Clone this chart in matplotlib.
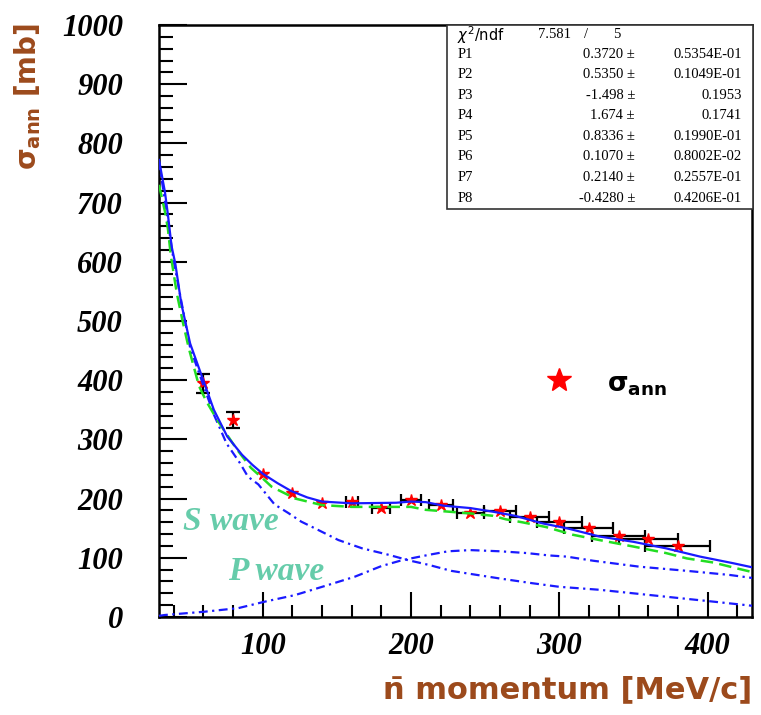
import matplotlib.pyplot as plt
from matplotlib.ticker import MultipleLocator
from matplotlib.patches import Rectangle

plt.rcParams['mathtext.fontset'] = 'dejavusans'

# measured points (antineutron momentum, annihilation cross section)
momentum = [60, 80, 100, 120, 140, 160, 180, 200, 220, 240, 260, 280, 300, 320, 340, 360, 380]
sigma_ann = [395, 333, 242, 210, 193, 195, 184, 197, 189, 175, 179, 169, 160, 150, 137, 131, 120]
momentum_err = [0, 0, 0, 0, 0, 4, 6, 7, 8, 9, 11, 13, 15, 16.5, 18, 20, 22]
sigma_err = [16, 13, 0, 0, 0, 0, 0, 0, 0, 0, 0, 0, 0, 0, 0, 0, 0]

# total fit (blue solid)
fit_p = [30, 32, 34, 36, 38.5, 41, 45, 51, 59, 67, 76, 86, 93, 100, 110, 119, 130, 140,
         160, 190, 200, 210, 222, 240, 255, 270, 289, 305, 327, 350, 372, 395, 417, 430]
fit_s = [772, 745, 718, 680, 626, 597, 530, 462, 406, 350, 305, 274, 257, 242, 226, 213, 202, 195,
         192, 193, 195, 194, 188, 184, 178, 171, 158, 150, 136, 127, 116, 102, 91, 84]

# second fit (green dashed)
alt_p = [30, 34, 36, 38, 42, 46, 50, 57, 62, 70, 82, 92, 100, 106, 122, 140, 160, 200,
         210, 240, 255, 264, 275, 291, 309, 327, 350, 372, 386, 404, 420, 430]
alt_s = [730, 685, 656, 610, 547, 499, 455, 390, 364, 330, 285, 252, 234, 220, 200, 189, 186, 186,
         181, 175, 171, 165, 160, 152, 139, 130, 119, 108, 99, 92, 82, 76]

# S wave component
swave_p = [30, 40, 51, 59, 67, 75.6, 84.6, 90, 97, 108, 117, 126, 135, 151, 167, 185, 198,
           212, 227, 237, 260, 282, 300, 327, 373, 400, 430]
swave_s = [770, 600, 455, 398, 342, 293, 260, 237, 224, 190, 176, 161, 150, 130, 116, 105, 96,
           88, 78, 74, 65, 57, 51, 46, 34, 27, 19]

# P wave component
pwave_p = [30, 34, 61, 83.5, 101.5, 121.7, 144, 162, 180, 194, 212, 225, 240, 260, 278, 293,
           305, 323, 354, 386, 415, 430]
pwave_s = [2, 3.4, 9, 15, 26, 37, 54, 68, 86, 96, 105, 111, 113, 111, 108, 104,
           102, 95, 85, 78, 71, 66]

par_names = ['P1', 'P2', 'P3', 'P4', 'P5', 'P6', 'P7', 'P8']
par_values = ['0.3720', '0.5350', '-1.498', '1.674', '0.8336', '0.1070', '0.2140', '-0.4280']
par_errors = ['0.5354E-01', '0.1049E-01', '0.1953', '0.1741', '0.1990E-01', '0.8002E-02',
              '0.2557E-01', '0.4206E-01']

W, H = 761, 715
brown = '#9c4a1c'
teal = '#66ccaa'
blue = '#1a1aff'


def fx(x):
    return x / W


def fy(y):
    return 1 - y / H


fig = plt.figure(figsize=(W / 100, H / 100), dpi=100)
ax = fig.add_axes([fx(159), fy(617), 593 / W, 592 / H])

ax.plot(pwave_p, pwave_s, color=blue, lw=1.6, dashes=(4, 2, 1, 2), zorder=3)
ax.plot(swave_p, swave_s, color=blue, lw=1.6, dashes=(4, 2, 1, 2), zorder=3)

# vertical and horizontal error bars are drawn separately, only where they exist
vy = [i for i, e in enumerate(sigma_err) if e > 0]
hx = [i for i, e in enumerate(momentum_err) if e > 0]
ax.errorbar([momentum[i] for i in vy], [sigma_ann[i] for i in vy], yerr=[sigma_err[i] for i in vy],
            fmt='none', ecolor='black', elinewidth=1.6, capsize=5, capthick=1.6, zorder=2)
ax.errorbar([momentum[i] for i in hx], [sigma_ann[i] for i in hx], xerr=[momentum_err[i] for i in hx],
            fmt='none', ecolor='black', elinewidth=1.6, capsize=4.5, capthick=1.6, zorder=2)
ax.plot(momentum, sigma_ann, ls='none', marker='*', color='red', ms=9, zorder=2)
ax.plot(alt_p, alt_s, color='#22dd22', lw=1.8, dashes=(5, 2.5), zorder=3)
ax.plot(fit_p, fit_s, color=blue, lw=1.6, zorder=4)

# legend
ax.plot([300], [400], marker='*', color='red', ms=18, ls='none')
ax.text(332, 392, r'$\mathbf{\sigma_{ann}}$', fontsize=19, color='black', va='center')

ax.text(46, 147, 'S wave', color=teal, fontsize=24, family='Liberation Serif',
        style='italic', weight='bold')
ax.text(76.5, 62, 'P wave', color=teal, fontsize=24, family='Liberation Serif',
        style='italic', weight='bold')

ax.set_xlim(30, 430)
ax.set_ylim(0, 1000)
ax.set_xticks([100, 200, 300, 400])
ax.set_yticks(range(0, 1001, 100))
ax.xaxis.set_minor_locator(MultipleLocator(20))
ax.yaxis.set_minor_locator(MultipleLocator(20))
ax.tick_params(axis='y', which='major', direction='in', length=20, width=1.5, pad=26, labelsize=22)
ax.tick_params(axis='y', which='minor', direction='in', length=10, width=1.5)
ax.tick_params(axis='x', which='major', direction='in', length=18, width=1.5, pad=11, labelsize=22)
ax.tick_params(axis='x', which='minor', direction='in', length=9, width=1.5)
for lab in ax.get_xticklabels() + ax.get_yticklabels():
    lab.set_family('Liberation Serif')
    lab.set_style('italic')
    lab.set_weight('bold')
for sp in ax.spines.values():
    sp.set_linewidth(1.8)

fig.text(fx(28), fy(97), r'$\mathbf{\sigma_{ann}}$ [mb]', rotation=90, color=brown,
         fontsize=20, weight='bold', ha='center', va='center')
fig.text(fx(752), fy(690), 'n\u0304 momentum [MeV/c]', color=brown, fontsize=22,
         weight='bold', ha='right', va='center')

# fit statistics box
fig.add_artist(Rectangle((fx(447), fy(209)), 306 / W, 184 / H, transform=fig.transFigure,
                         facecolor='white', edgecolor='#333333', lw=1.2, zorder=5))
fig.text(fx(457), fy(35), r'$\chi^2$/ndf', fontsize=10.5, va='center', zorder=6)
fig.text(fx(538), fy(35), '7.581', fontsize=10.5, family='Liberation Serif', va='center', zorder=6)
fig.text(fx(586), fy(35), '/', fontsize=10.5, family='Liberation Serif', ha='center', va='center', zorder=6)
fig.text(fx(617), fy(35), '5', fontsize=10.5, family='Liberation Serif', ha='center', va='center', zorder=6)
for i, (nm, v, e) in enumerate(zip(par_names, par_values, par_errors)):
    y = 54 + i * 20.6
    fig.text(fx(458), fy(y), nm, fontsize=10.5, family='Liberation Serif', va='center', zorder=6)
    fig.text(fx(635), fy(y), v + ' \u00b1', fontsize=10.5, family='Liberation Serif',
             ha='right', va='center', zorder=6)
    fig.text(fx(742), fy(y), e, fontsize=10.5, family='Liberation Serif',
             ha='right', va='center', zorder=6)

fig.savefig('out.png', dpi=100)
